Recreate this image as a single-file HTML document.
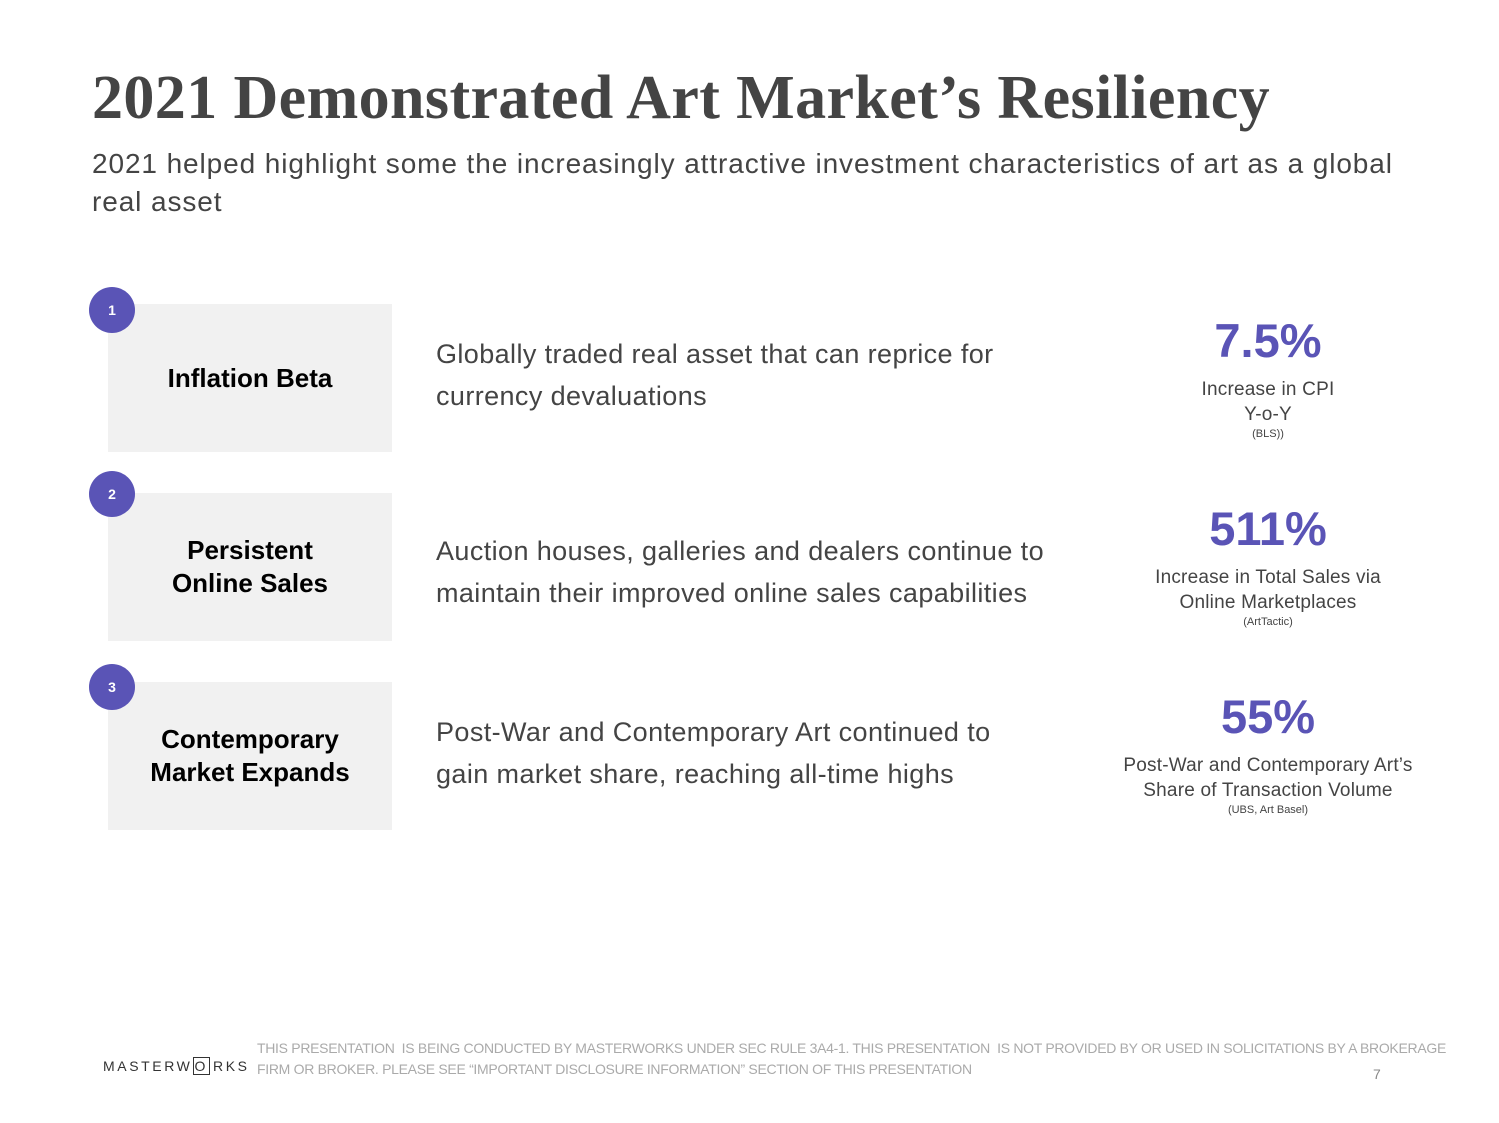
<!DOCTYPE html>
<html><head><meta charset="utf-8"><style>
body{margin:0;width:1499px;height:1123px;background:#fff;position:relative;overflow:hidden;font-family:"Liberation Sans",sans-serif;color:#444}
.a{position:absolute}
.title{left:92px;top:63px;font-family:"Liberation Serif",serif;font-weight:bold;font-size:62px;letter-spacing:0.4px;color:#444;white-space:nowrap}
.sub{left:92px;top:145px;font-size:28px;line-height:38px;width:1318px;color:#444;letter-spacing:0.9px}
.box{left:108px;width:284px;height:148px;background:#f1f1f1;display:flex;align-items:center;justify-content:center;text-align:center;font-weight:bold;font-size:26px;line-height:33px;color:#000}
.c{left:89px;width:46px;height:46px;border-radius:50%;background:#5a54b6;color:#fff;font-weight:bold;font-size:14px;display:flex;align-items:center;justify-content:center}
.d{left:436px;font-size:27px;line-height:42px;color:#444;width:615px;letter-spacing:0.4px}
.s{left:1068px;width:400px;text-align:center}
.n{font-weight:bold;font-size:47px;color:#5a54b6;line-height:52px}
.l{font-size:19px;line-height:25px;color:#444;letter-spacing:0.2px}
.t{font-size:11px;line-height:14px;color:#444}
.disc{left:257px;top:1038px;font-size:14px;line-height:21px;color:#aaa;width:1218px;letter-spacing:-0.3px}
</style></head><body>
<div class="a title">2021 Demonstrated Art Market’s Resiliency</div>
<div class="a sub">2021 helped highlight some the increasingly attractive investment characteristics of art as a global real asset</div>

<div class="a box" style="top:304px">Inflation Beta</div>
<div class="a c" style="top:287px">1</div>
<div class="a d" style="top:333px">Globally traded real asset that can reprice for currency devaluations</div>
<div class="a s" style="top:315px"><div class="n">7.5%</div><div class="l" style="margin-top:10px">Increase in CPI<br>Y-o-Y</div><div class="t">(BLS))</div></div>

<div class="a box" style="top:493px">Persistent<br>Online Sales</div>
<div class="a c" style="top:471px">2</div>
<div class="a d" style="top:530px">Auction houses, galleries and dealers continue to maintain their improved online sales capabilities</div>
<div class="a s" style="top:503px"><div class="n">511%</div><div class="l" style="margin-top:10px">Increase in Total Sales via<br>Online Marketplaces</div><div class="t">(ArtTactic)</div></div>

<div class="a box" style="top:682px">Contemporary<br>Market Expands</div>
<div class="a c" style="top:664px">3</div>
<div class="a d" style="top:711px">Post-War and Contemporary Art continued to<br>gain market share, reaching all-time highs</div>
<div class="a s" style="top:691px"><div class="n">55%</div><div class="l" style="margin-top:10px">Post-War and Contemporary Art’s<br>Share of Transaction Volume</div><div class="t">(UBS, Art Basel)</div></div>

<div class="a" style="left:103px;top:1058px;font-size:14px;letter-spacing:2.6px;color:#333;white-space:nowrap">MASTERW<span style="border:1.5px solid #333;padding:0 1px;margin-right:3px">O</span>RKS</div>
<div class="a disc">THIS PRESENTATION &nbsp;IS BEING CONDUCTED BY MASTERWORKS UNDER SEC RULE 3A4-1. THIS PRESENTATION &nbsp;IS NOT PROVIDED BY OR USED IN SOLICITATIONS BY A BROKERAGE<br>FIRM OR BROKER. PLEASE SEE “IMPORTANT DISCLOSURE INFORMATION” SECTION OF THIS PRESENTATION</div>
<div class="a" style="left:1373px;top:1066px;font-size:14px;color:#888">7</div>
</body></html>
